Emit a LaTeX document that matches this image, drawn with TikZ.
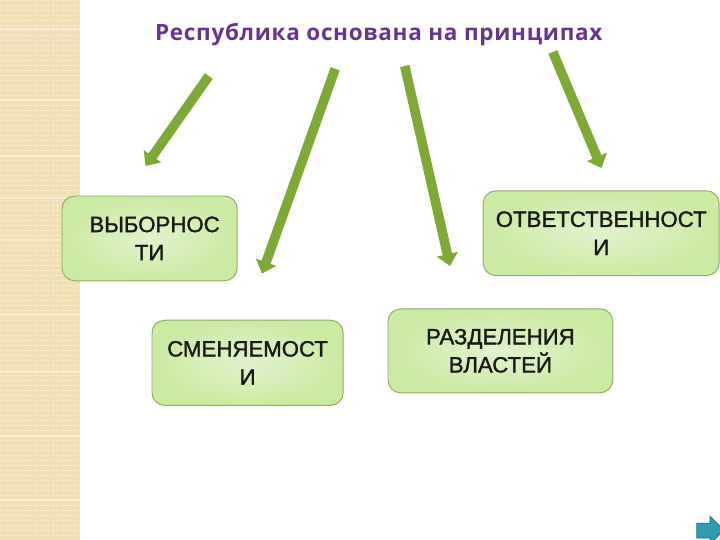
\documentclass[tikz,border=0pt]{standalone}
\usepackage{fontspec}
\setmainfont{Liberation Sans}
\newfontfamily\boxfont[FakeBold=1.4]{Liberation Sans}
\newfontfamily\titlefont[LetterSpace=3]{Open Sans}
\usetikzlibrary{arrows.meta}
\definecolor{bandbase}{HTML}{F0E0B8}
\definecolor{bandlight}{HTML}{F8EDCE}
\definecolor{arrowgreen}{HTML}{7FA936}
\definecolor{boxedge}{HTML}{8FAE62}
\definecolor{boxin}{HTML}{E2F3CC}
\definecolor{boxout}{HTML}{CBEAA3}
\definecolor{titlepurple}{HTML}{67358F}
\definecolor{navblue}{HTML}{2F9DB0}
\tikzset{
  answer/.style={draw=boxedge,line width=0.7pt,rounded corners=0.32cm,inner color=boxin,outer color=boxout,
    align=center,font=\boxfont\fontsize{15.8}{20}\selectfont,text=black!90,inner sep=0pt},
  bigarrow/.style={draw=arrowgreen,line width=0.24cm,-{Triangle[width=0.52cm,length=0.3cm]}},
}
\begin{document}
\begin{tikzpicture}
  \useasboundingbox (0,0) rectangle (18,-13.5);
  \clip (0,0) rectangle (18,-13.5);
  % left band
  \fill[bandbase] (0,0) rectangle (2,-13.5);
  \foreach \y in {0,0.125,...,13.5}
    \draw[bandlight,line width=0.6pt,dash pattern=on 3pt off 1pt] (0,-\y)--(2,-\y);
  \foreach \y in {0.72,1.88,2.5,3.9,4.95,6.0,7.85,9.3,10.9,12.5}
    \draw[bandlight,line width=1pt] (0,-\y)--(2,-\y);
  % title
  \node (title) at (9.47,-0.87) {\titlefont\fontsize{16}{18}\selectfont\bfseries\color{titlepurple}Республика основана на принципах};
  % boxes
  \node[answer,minimum width=4.38cm,minimum height=2.12cm] (vybor) at (3.74,-5.96) {\hspace*{0.25cm}ВЫБОРНОС\\ТИ};
  \node[answer,minimum width=4.78cm,minimum height=2.13cm] (smena) at (6.19,-9.07) {СМЕНЯЕМОСТ\\И};
  \node[answer,minimum width=5.9cm,minimum height=2.12cm] (otvet) at (15.03,-5.83) {ОТВЕТСТВЕННОСТ\\И};
  \node[answer,minimum width=5.62cm,minimum height=2.1cm] (razdel) at (12.51,-8.77) {РАЗДЕЛЕНИЯ\\ВЛАСТЕЙ};
  % arrows
  \coordinate (a1) at (5.22,-1.9);
  \coordinate (b1) at (3.64,-4.15);
  \coordinate (a2) at (8.38,-1.72);
  \coordinate (b2) at (6.55,-6.84);
  \coordinate (a3) at (10.12,-1.65);
  \coordinate (b3) at (11.25,-6.65);
  \coordinate (a4) at (13.82,-1.3);
  \coordinate (b4) at (15.04,-4.2);
  \draw[bigarrow] (a1)--(b1);
  \draw[bigarrow] (a2)--(b2);
  \draw[bigarrow] (a3)--(b3);
  \draw[bigarrow] (a4)--(b4);
  % nav button
  \fill[navblue,draw=navblue!70!black,line width=0.5pt] (17.42,-13.08)--(17.75,-13.08)--(17.75,-12.9)--(18.1,-13.25)--(17.75,-13.6)--(17.75,-13.45)--(17.42,-13.45)--cycle;
\end{tikzpicture}
\end{document}
